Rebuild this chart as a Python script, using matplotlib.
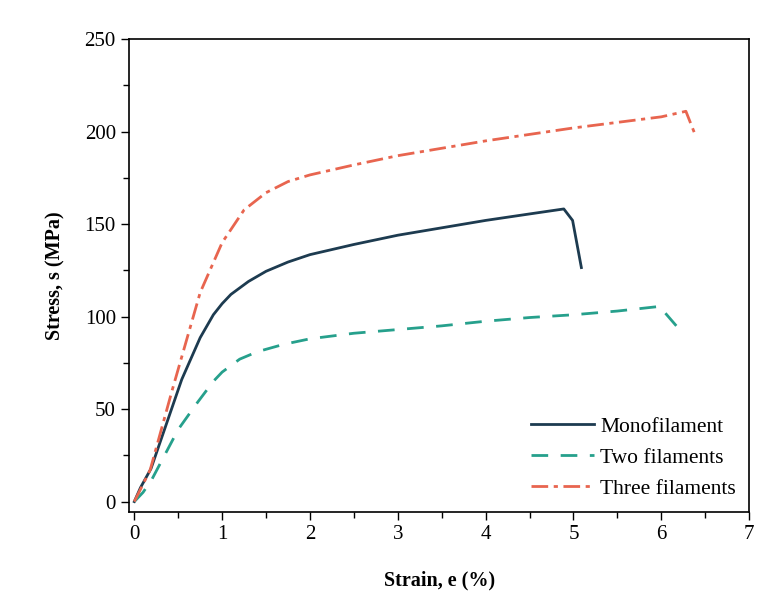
import matplotlib
matplotlib.use("Agg")
import matplotlib.pyplot as plt
from matplotlib.ticker import MultipleLocator

mono_x = [0, 0.07, 0.19, 0.54, 0.75, 0.9, 1.0, 1.1, 1.3, 1.5, 1.75, 2.0, 2.5, 3.0, 3.5, 4.0, 4.5, 4.89, 4.99, 5.09]
mono_y = [0, 7.5, 17.8, 66, 88.6, 101, 107, 112, 119, 124.5, 129.5, 133.5, 139, 144, 148, 152, 155.5, 158.2, 152, 126.5]

two_x = [0, 0.1, 0.2, 0.5, 0.71, 0.9, 1.0, 1.2, 1.4, 1.7, 2.0, 2.5, 3.0, 3.5, 4.0, 4.5, 5.0, 5.5, 5.98, 6.18]
two_y = [0, 5, 12, 39, 53, 65, 70, 77, 81, 85, 88, 91, 93, 95, 97.5, 99.5, 101, 103, 105.5, 94.5]

three_x = [0, 0.18, 0.43, 0.75, 1.0, 1.25, 1.5, 1.75, 2.0, 2.5, 3.0, 3.5, 4.0, 4.5, 5.0, 5.5, 6.0, 6.28, 6.38]
three_y = [0, 17, 60, 113, 140, 157.7, 167, 173, 176.6, 182, 187, 191, 195, 198.5, 202, 205, 208, 211, 199]

labels = ["Monofilament", "Two filaments", "Three filaments"]
colors = ["#1d3b50", "#26a08c", "#e8654f"]

plt.rcParams['font.family'] = ['Liberation Serif', 'DejaVu Serif']

fig = plt.figure(figsize=(7.59, 5.93), dpi=100)
ax = fig.add_axes([0.170, 0.137, 0.817, 0.797])

ax.plot(mono_x, mono_y, color=colors[0], lw=2.0, ls='-', label=labels[0])
ax.plot(two_x, two_y, color=colors[1], lw=2.0, ls=(0, (6, 4.5)), label=labels[1])
ax.plot(three_x, three_y, color=colors[2], lw=2.0, ls=(0, (6, 2, 1.5, 2)), label=labels[2])

ax.set_xlim(-0.06, 7)
ax.set_ylim(-5.5, 250)
ax.xaxis.set_major_locator(MultipleLocator(1))
ax.xaxis.set_minor_locator(MultipleLocator(0.5))
ax.yaxis.set_major_locator(MultipleLocator(50))
ax.yaxis.set_minor_locator(MultipleLocator(25))
ax.tick_params(which='both', direction='out', labelsize=15, width=1.0)
ax.tick_params(which='major', length=6)
ax.tick_params(which='minor', length=4)
for s in ax.spines.values():
    s.set_linewidth(1.2)

ax.set_xlabel("Strain, e (%)", fontsize=14.5, fontweight='bold', labelpad=19)
ax.set_ylabel("Stress, s (MPa)", fontsize=14.5, fontweight='bold', labelpad=14)

ax.legend(loc='lower right', frameon=False, fontsize=15.5, handlelength=2.9,
          handletextpad=0.3, labelspacing=0.5, bbox_to_anchor=(1.01, -0.013))

fig.savefig("out.png", dpi=100)
